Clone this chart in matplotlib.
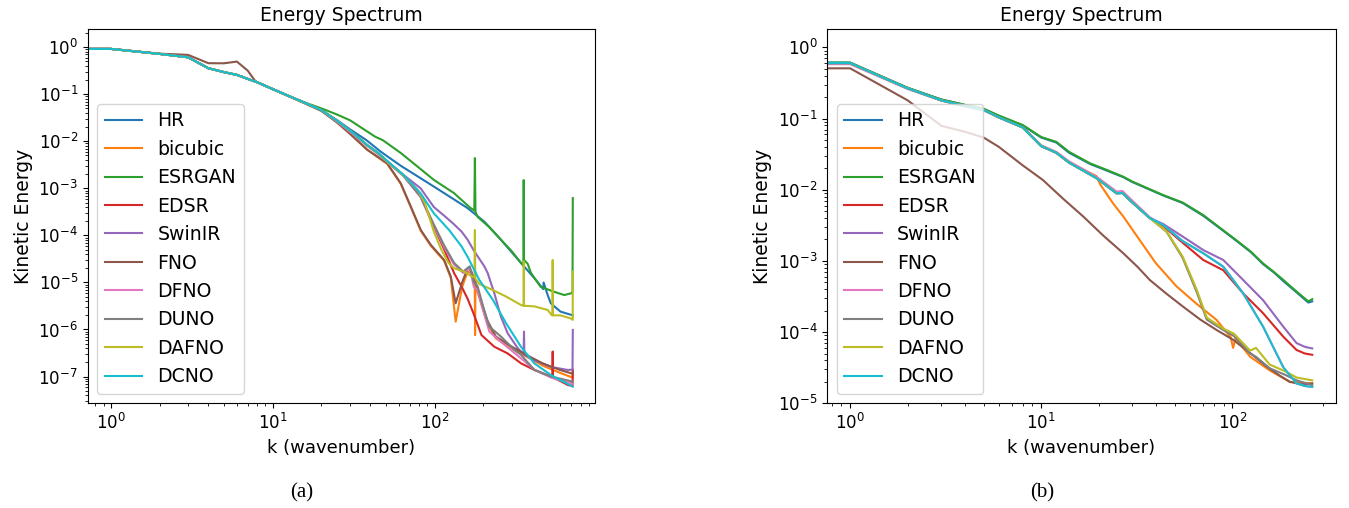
import matplotlib
matplotlib.use("Agg")
import matplotlib.pyplot as plt

names = ["HR", "bicubic", "ESRGAN", "EDSR", "SwinIR", "FNO", "DFNO", "DUNO", "DAFNO", "DCNO"]

# ---------------- panel (a) ----------------
ka_grp = [0.7, 1, 2, 3, 4, 5, 6, 7, 8, 9.4, 12, 15, 20]
ea_grp = [0.92, 0.92, 0.72, 0.61, 0.357, 0.295, 0.258, 0.212, 0.18, 0.141, 0.098, 0.071, 0.046]

ka_hr = ka_grp + [25, 30, 38, 46, 51, 62, 80, 99, 130, 160, 203, 257, 342, 414, 452, 470, 472, 500,
                  523, 600, 715]
ea_hr = ea_grp + [0.028, 0.018, 0.0105, 6.2e-3, 4.8e-3, 3.0e-3, 1.73e-3, 1.09e-3, 6.0e-4, 3.8e-4,
                  1.96e-4, 8.1e-5, 2.6e-5, 1.23e-5, 8.5e-6, 7.2e-6, 1.0e-5, 5.4e-6, 3.6e-6, 2.4e-6,
                  2.0e-6]

ka_bic = ka_grp + [25, 30, 38.4, 51, 61.8, 71.3, 82.2, 94.8, 114.6, 126, 135, 148, 160, 168, 177,
                   178, 179, 184, 190, 211, 239, 280, 324, 400, 467, 596, 712, 715]
ea_bic = ea_grp + [0.025, 0.0145, 6.6e-3, 3.3e-3, 1.25e-3, 4.0e-4, 1.25e-4, 6.0e-5, 2.9e-5, 1.25e-5,
                   1.47e-6, 8e-6, 1.7e-5, 1.6e-5, 1.1e-5, 7.6e-7, 1.0e-5, 6.5e-6, 4.5e-6, 1.4e-6,
                   6.5e-7, 4.6e-7, 3.4e-7, 2.3e-7, 1.7e-7, 1.2e-7, 9.5e-8, 1.2e-7]

ka_esr = ka_grp[:-1] + [20, 25, 30, 43, 48, 62, 80, 99, 132, 167, 176, 177.5, 179, 184, 220, 257, 300,
                        342, 354, 355.5, 357, 376, 394, 452, 551, 633, 700, 712, 715]
ea_esr = ea_grp[:-1] + [0.05, 0.037, 0.028, 0.0125, 0.0105, 5.6e-3, 2.75e-3, 1.51e-3, 7.9e-4, 3.8e-4,
                        3.4e-4, 4.4e-3, 3.2e-4, 2.5e-4, 1.45e-4, 8.1e-5, 4.6e-5, 2.6e-5, 2.3e-5, 1.5e-3,
                        3.0e-5, 2.5e-5, 1.6e-5, 8.1e-6, 6.3e-6, 5.4e-6, 5.9e-6, 6.3e-6, 6.2e-4]

ka_edsr = ka_grp + [25, 30, 38, 45, 51, 64, 82, 99, 115, 132, 147, 160, 174, 195, 234, 283, 343, 414,
                    525, 535, 537, 539, 600, 666, 712, 715]
ea_edsr = ea_grp + [0.027, 0.017, 8.5e-3, 5.5e-3, 3.7e-3, 1.9e-3, 6.7e-4, 1.54e-4, 4.9e-5, 1.58e-5,
                    8.1e-6, 4.5e-6, 2.2e-6, 7.6e-7, 4.3e-7, 3.1e-7, 1.9e-7, 1.38e-7, 1.0e-7, 9.5e-8,
                    3.4e-7, 9.5e-8, 8.0e-8, 6.6e-8, 6.3e-8, 1.4e-7]

ka_swin = ka_grp + [25, 30, 38, 45, 51, 64, 82, 99, 115, 130, 147, 160, 174, 203, 213, 234, 257, 283,
                    327, 355, 357, 359, 414, 525, 666, 712, 715]
ea_swin = ea_grp + [0.027, 0.017, 8.5e-3, 5.6e-3, 3.8e-3, 1.95e-3, 1.0e-3, 4.0e-4, 2.6e-4, 1.8e-4,
                    1.2e-4, 8.1e-5, 4.9e-5, 2.2e-5, 1.58e-5, 5.9e-6, 1.87e-6, 8.3e-7, 4.0e-7, 3.0e-7,
                    9e-7, 2.9e-7, 2.2e-7, 1.6e-7, 1.38e-7, 1.4e-7, 9.8e-7]

ka_fno = [0.7, 1, 2, 3, 4, 5, 6, 7, 7.8, 9.4, 12, 15, 20, 25, 30, 38.4, 51, 61.8, 71.3, 82.2, 94.8,
          114.6, 126, 135, 148, 160, 168, 175, 184, 190, 211, 239, 280, 324, 400, 467, 596, 712, 715]
ea_fno = [0.92, 0.92, 0.73, 0.686, 0.457, 0.455, 0.495, 0.318, 0.19, 0.141, 0.097, 0.069, 0.044,
          0.025, 0.0145, 6.6e-3, 3.4e-3, 1.28e-3, 4.1e-4, 1.3e-4, 6.3e-5, 3.0e-5, 1.33e-5, 3.6e-6,
          1.0e-5, 2.0e-5, 1.8e-5, 1.2e-5, 7.5e-6, 5e-6, 1.6e-6, 7.1e-7, 5e-7, 3.7e-7, 2.5e-7,
          1.9e-7, 1.38e-7, 1.15e-7, 1.25e-7]

ka_dfno = ka_grp + [25, 30, 38, 45, 51, 64, 82, 99, 115, 132, 150, 165, 175, 184, 200, 218, 257, 311,
                    414, 525, 715]
ea_dfno = ea_grp + [0.026, 0.016, 8.2e-3, 5.3e-3, 3.6e-3, 1.85e-3, 6.5e-4, 1.6e-4, 5.5e-5, 2.4e-5,
                    1.6e-5, 2.0e-5, 8e-6, 7e-6, 2.5e-6, 9e-7, 5.5e-7, 3.2e-7, 1.4e-7, 9.5e-8, 7e-8]

ka_duno = ka_grp + [25, 30, 38, 45, 51, 64, 82, 99, 115, 132, 150, 165, 175, 184, 200, 218, 257, 311,
                    342, 414, 525, 715]
ea_duno = ea_grp + [0.027, 0.017, 8.4e-3, 5.4e-3, 3.7e-3, 1.9e-3, 6.7e-4, 1.7e-4, 6e-5, 2.6e-5,
                    1.7e-5, 2.2e-5, 1.0e-5, 8.5e-6, 3.0e-6, 1.15e-6, 7.1e-7, 3.7e-7, 2.9e-7, 1.38e-7,
                    1.0e-7, 7.8e-8]

ka_dafno = ka_grp + [25, 30, 38, 45, 51, 64, 79, 87, 99, 110, 122, 132, 152, 171, 176.5, 177.5, 178.5,
                     189, 229, 277, 343, 355, 356, 357, 414, 500, 531, 536, 537, 538, 600, 700, 714, 715]
ea_dafno = ea_grp + [0.027, 0.017, 8.5e-3, 5.5e-3, 3.7e-3, 1.9e-3, 9e-4, 5e-4, 1.2e-4, 5e-5, 2.6e-5,
                     2.0e-5, 1.7e-5, 1.33e-5, 1.3e-5, 1.3e-4, 1.2e-5, 9.3e-6, 6.9e-6, 5.0e-6, 3.3e-6,
                     3.2e-6, 2.8e-5, 3.2e-6, 3.1e-6, 2.6e-6, 2.0e-6, 2.0e-6, 3.0e-5, 2.0e-6, 2.0e-6,
                     1.7e-6, 1.6e-6, 1.7e-5]

ka_dcno = ka_grp + [25, 30, 38, 45, 51, 64, 82, 99, 123, 147, 160, 189, 229, 277, 342, 414, 525, 715]
ea_dcno = ea_grp + [0.027, 0.017, 8.5e-3, 5.6e-3, 3.8e-3, 1.95e-3, 7.8e-4, 2.95e-4, 1.3e-4, 5.8e-5,
                    3.5e-5, 1.13e-5, 4.3e-6, 1.35e-6, 4.3e-7, 1.9e-7, 1.07e-7, 6.1e-8]

# ---------------- panel (b) ----------------
kb_grp = [0.7, 1, 2, 3, 4, 5, 6, 8, 10, 12, 14, 19.5, 24.8, 26.6, 30, 37]
eb_grp = [0.6, 0.6, 0.265, 0.18, 0.15, 0.132, 0.104, 0.075, 0.041, 0.033, 0.024, 0.0145,
          8.9e-3, 9.0e-3, 6.6e-3, 4.0e-3]

kb_esr = [0.7, 1, 2, 3, 4, 5, 6, 8, 10, 12, 14, 18, 22, 26.9, 30, 43.5, 55, 70.5, 85, 105, 125, 145,
          165, 185, 210, 235, 250, 262]
eb_esr = [0.61, 0.61, 0.27, 0.185, 0.155, 0.137, 0.11, 0.081, 0.055, 0.047, 0.034, 0.0235, 0.019,
          0.0152, 0.013, 8.4e-3, 6.6e-3, 4.4e-3, 3.0e-3, 1.95e-3, 1.35e-3, 9.2e-4, 7.0e-4, 5.4e-4,
          4.0e-4, 3.1e-4, 2.7e-4, 2.9e-4]
kb_hr = kb_esr
eb_hr = [0.61, 0.61, 0.27, 0.185, 0.155, 0.136, 0.109, 0.08, 0.054, 0.046, 0.033, 0.023, 0.0186,
         0.015, 0.0128, 8.3e-3, 6.5e-3, 4.3e-3, 2.95e-3, 1.92e-3, 1.33e-3, 9.0e-4, 6.9e-4, 5.2e-4,
         3.9e-4, 3.0e-4, 2.6e-4, 2.7e-4]

kb_bic = kb_grp[:11] + [19.5, 20.3, 23.8, 26.9, 32.8, 39.8, 51, 65, 82.8, 98, 101, 104, 124, 157,
                        200, 262]
eb_bic = eb_grp[:11] + [0.0155, 0.012, 6.4e-3, 4.2e-3, 1.95e-3, 9.3e-4, 4.4e-4, 2.5e-4, 1.48e-4,
                        8.5e-5, 6e-5, 8.2e-5, 4.5e-5, 2.9e-5, 2.0e-5, 1.9e-5]

kb_edsr = kb_grp + [43.5, 55, 70.5, 89.7, 114, 145, 185, 217, 240, 262]
eb_edsr = eb_grp + [3.1e-3, 1.8e-3, 1.03e-3, 7.4e-4, 3.5e-4, 1.84e-4, 8.6e-5, 5.6e-5, 5.0e-5, 4.8e-5]

kb_swin = kb_grp + [43.5, 55, 70.5, 89.7, 114, 145, 185, 217, 240, 262]
eb_swin = eb_grp + [3.3e-3, 2.2e-3, 1.42e-3, 1.03e-3, 5.4e-4, 2.8e-4, 1.19e-4, 7e-5, 6.2e-5, 5.9e-5]

kb_fno = [0.7, 1, 2, 3, 4, 5, 6, 8, 10.2, 13, 16.6, 21, 26.9, 32, 37, 45, 55, 68, 82.8, 101, 125,
          151, 175, 200, 230, 262]
eb_fno = [0.507, 0.507, 0.18, 0.079, 0.065, 0.054, 0.04, 0.022, 0.0137, 7.5e-3, 4.2e-3, 2.3e-3,
          1.28e-3, 8.2e-4, 5.4e-4, 3.5e-4, 2.3e-4, 1.5e-4, 1.07e-4, 7.8e-5, 5e-5, 3.3e-5, 2.5e-5,
          2.0e-5, 1.85e-5, 1.9e-5]

kb_dfno = [0.7, 1, 2, 3, 4, 5, 6, 8, 10, 12, 14, 19.5, 24.8, 26.6, 30, 37, 43.5, 55, 70.5, 89.7, 114,
           145, 185, 217, 240, 262]
eb_dfno = [0.58, 0.58, 0.26, 0.178, 0.148, 0.13, 0.103, 0.075, 0.042, 0.034, 0.025, 0.0152, 9.4e-3,
           9.6e-3, 7.0e-3, 4.1e-3, 3.2e-3, 1.9e-3, 1.28e-3, 8.3e-4, 3.5e-4, 1.19e-4, 3.2e-5, 1.9e-5,
           1.75e-5, 1.7e-5]

kb_duno = kb_grp + [45.3, 55, 65, 73.5, 89.7, 102, 124, 133, 157, 190, 217, 262]
eb_duno = eb_grp + [2.57e-3, 1.1e-3, 3.7e-4, 1.5e-4, 1.07e-4, 8.8e-5, 5.0e-5, 4.5e-5, 3.1e-5, 2.5e-5,
                    2.1e-5, 1.8e-5]

kb_dafno = kb_grp + [45.3, 55, 65, 73.5, 89.7, 102, 124, 133, 157, 190, 217, 262]
eb_dafno = eb_grp + [2.6e-3, 1.15e-3, 4.0e-4, 1.6e-4, 1.12e-4, 9.5e-5, 5.5e-5, 6e-5, 3.5e-5, 2.8e-5,
                     2.3e-5, 2.1e-5]

kb_dcno = kb_grp + [43.5, 55, 70.5, 89.7, 114, 145, 185, 217, 240, 262]
eb_dcno = eb_grp + [3.2e-3, 1.9e-3, 1.28e-3, 8.3e-4, 3.5e-4, 1.19e-4, 3.2e-5, 1.9e-5, 1.75e-5, 1.7e-5]

series_a = [(ka_hr, ea_hr), (ka_bic, ea_bic), (ka_esr, ea_esr), (ka_edsr, ea_edsr), (ka_swin, ea_swin),
            (ka_fno, ea_fno), (ka_dfno, ea_dfno), (ka_duno, ea_duno), (ka_dafno, ea_dafno),
            (ka_dcno, ea_dcno)]
series_b = [(kb_hr, eb_hr), (kb_bic, eb_bic), (kb_esr, eb_esr), (kb_edsr, eb_edsr), (kb_swin, eb_swin),
            (kb_fno, eb_fno), (kb_dfno, eb_dfno), (kb_duno, eb_duno), (kb_dafno, eb_dafno),
            (kb_dcno, eb_dcno)]

fig = plt.figure(figsize=(13.49, 5.08), dpi=100)
ax_a = fig.add_axes([0.065, 0.2061, 0.3763, 0.7362])
ax_b = fig.add_axes([0.6133, 0.2061, 0.3769, 0.7362])

for ax, series, xl, yl in [(ax_a, series_a, (0.718, 985), (2.7e-8, 2.4)),
                           (ax_b, series_b, (0.76, 348), (1e-5, 1.79))]:
    for name, (k, e) in zip(names, series):
        ax.loglog(k, e, label=name, lw=1.5)
    ax.set_xlim(*xl)
    ax.set_ylim(*yl)
    ax.set_title("Energy Spectrum", fontsize=13.5)
    ax.set_xlabel("k (wavenumber)", fontsize=13)
    ax.set_ylabel("Kinetic Energy", fontsize=13.5)
    ax.tick_params(labelsize=12)
    ax.legend(loc="lower left", fontsize=13.6)

fig.text(302 / 1349, 1 - 493 / 508, "(a)", ha="center", va="center",
         family="Liberation Serif", fontsize=15)
fig.text(1042 / 1349, 1 - 493 / 508, "(b)", ha="center", va="center",
         family="Liberation Serif", fontsize=15)

fig.savefig("out.png", dpi=100)
